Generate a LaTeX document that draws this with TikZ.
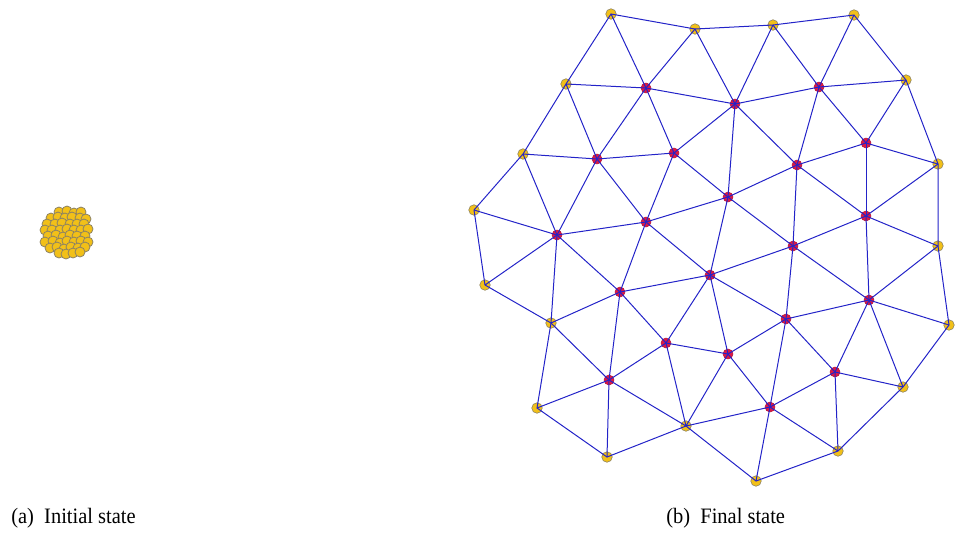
\documentclass[tikz,border=0pt]{standalone}
\usepackage{fontspec}
\setmainfont{Liberation Serif}
\definecolor{gold}{RGB}{242,192,24}
\definecolor{goldline}{RGB}{140,130,100}
\definecolor{meshblue}{RGB}{35,35,200}
\definecolor{inred}{RGB}{220,25,70}
\tikzset{
  seed/.style={draw=goldline,fill=gold,circle,inner sep=0pt,minimum size=10pt,line width=0.8pt},
  rim/.style={draw=goldline,fill=gold,circle,inner sep=0pt,minimum size=10.5pt,line width=0.6pt},
  inner/.style={draw=inred!80!black,fill=inred,circle,inner sep=0pt,minimum size=10pt,line width=0.5pt},
  link/.style={draw=meshblue,line width=1pt},
  caption/.style={anchor=base west,xscale=0.93,font=\fontsize{22}{26}\selectfont}
}
\begin{document}
\begin{tikzpicture}[x=1pt,y=-1pt]
\useasboundingbox (0,0) rectangle (955,550);
% initial state: agents packed together
\foreach \x/\y [count=\i] in {59/212,67/211,74/213,81/212,
  51/218,58/217,65/218,72/217,80/218,86/219,
  47/224,55/224,62/223,70/224,77/224,84/224,
  45/230,52/230,60/230,67/229,74/230,81/230,88/229,
  48/236,56/235,63/237,70/235,77/236,85/236,
  45/242,53/241,60/243,67/241,74/242,81/241,88/242,
  50/248,57/247,64/249,71/247,78/248,85/247,
  59/253,66/254,73/253,80/252}
  \node[seed] (s\i) at (\x,\y) {};
% final state: boundary agents
\node[rim] (Y1) at (611,14) {};
\node[rim] (Y2) at (695,29) {};
\node[rim] (Y3) at (773,25) {};
\node[rim] (Y4) at (854,15) {};
\node[rim] (Y5) at (906,80) {};
\node[rim] (Y6) at (938,164) {};
\node[rim] (Y7) at (938,246) {};
\node[rim] (Y8) at (949,325) {};
\node[rim] (Y9) at (903,387) {};
\node[rim] (Y10) at (838,451) {};
\node[rim] (Y11) at (756,481) {};
\node[rim] (Y12) at (686,426) {};
\node[rim] (Y13) at (607,457) {};
\node[rim] (Y14) at (537,408) {};
\node[rim] (Y15) at (551,323) {};
\node[rim] (Y16) at (485,285) {};
\node[rim] (Y17) at (474,210) {};
\node[rim] (Y18) at (523,154) {};
\node[rim] (Y19) at (566,84) {};
% final state: interior agents
\node[inner] (R1) at (646,88) {};
\node[inner] (R2) at (735,104) {};
\node[inner] (R3) at (819,87) {};
\node[inner] (R4) at (597,159) {};
\node[inner] (R5) at (674,153) {};
\node[inner] (R6) at (797,165) {};
\node[inner] (R7) at (866,143) {};
\node[inner] (R8) at (557,235) {};
\node[inner] (R9) at (646,222) {};
\node[inner] (R10) at (728,197) {};
\node[inner] (R11) at (866,216) {};
\node[inner] (R12) at (793,246) {};
\node[inner] (R13) at (620,292) {};
\node[inner] (R14) at (710,275) {};
\node[inner] (R15) at (869,300) {};
\node[inner] (R16) at (786,319) {};
\node[inner] (R17) at (666,343) {};
\node[inner] (R18) at (728,354) {};
\node[inner] (R19) at (835,372) {};
\node[inner] (R20) at (609,380) {};
\node[inner] (R21) at (770,407) {};
% mesh links
\draw[link] (Y1.center) -- (Y2.center) -- (Y3.center) -- (Y4.center) -- (Y5.center)
  -- (Y6.center) -- (Y7.center) -- (Y8.center) -- (Y9.center) -- (Y10.center)
  -- (Y11.center) -- (Y12.center) -- (Y13.center) -- (Y14.center) -- (Y15.center)
  -- (Y16.center) -- (Y17.center) -- (Y18.center) -- (Y19.center) -- cycle;
\foreach \a/\b in {Y1/R1,Y2/R1,Y2/R2,Y3/R2,Y3/R3,Y4/R3,Y5/R3,Y5/R7,Y6/R7,Y6/R11,
  Y7/R11,Y7/R15,Y8/R15,Y9/R15,Y9/R19,Y10/R19,Y10/R21,Y11/R21,Y12/R21,Y12/R18,
  Y12/R17,Y12/R20,Y13/R20,Y14/R20,Y15/R20,Y15/R13,Y15/R8,Y16/R8,Y17/R8,Y18/R8,
  Y18/R4,Y19/R4,Y19/R1}
  \draw[link] (\a.center) -- (\b.center);
\foreach \a/\b in {R1/R2,R1/R4,R1/R5,R2/R3,R2/R5,R2/R6,R2/R10,R3/R6,R3/R7,
  R4/R5,R4/R8,R4/R9,R5/R9,R5/R10,R6/R7,R6/R10,R6/R11,R6/R12,R7/R11,R8/R9,R8/R13,
  R9/R10,R9/R13,R9/R14,R10/R12,R10/R14,R11/R12,R11/R15,R12/R14,R12/R15,R12/R16,
  R13/R14,R13/R17,R13/R20,R14/R16,R14/R17,R14/R18,R15/R16,R15/R19,R16/R18,
  R16/R19,R16/R21,R17/R18,R17/R20,R18/R21,R19/R21}
  \draw[link] (\a.center) -- (\b.center);
% captions
\node[caption] (capA) at (8,523) {(a)\ \ Initial state};
\node[caption] (capB) at (663,523) {(b)\ \ Final state};
\end{tikzpicture}
\end{document}
